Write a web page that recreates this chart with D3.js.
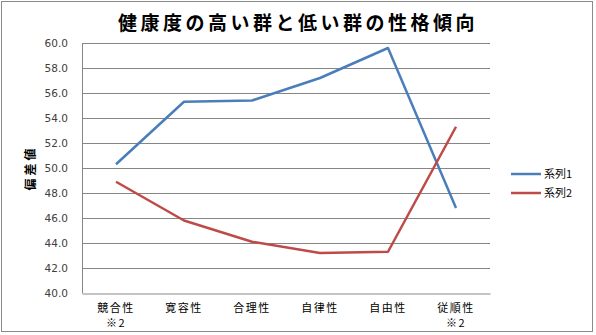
<!DOCTYPE html>
<html><head><meta charset="utf-8">
<script src="https://cdn.jsdelivr.net/npm/d3@7"></script>
<style>body{margin:0;background:#fff;}svg{display:block;}</style>
</head><body>
<script>
const categories = ["競合性\n※2","寛容性","合理性","自律性","自由性","従順性\n※2"];
const series1 = [50.3,55.3,55.4,57.2,59.6,46.8];
const series2 = [48.9,45.8,44.1,43.2,43.3,53.3];
const seriesNames = ["系列1","系列2"];
const yTicks = [40,42,44,46,48,50,52,54,56,58,60];
const title = "健康度の高い群と低い群の性格傾向";
const yLabel = "偏差値";

const W=596,H=335;
const svg=d3.select("body").append("svg").attr("width",W).attr("height",H);
svg.append("rect").attr("x",1.5).attr("y",1.5).attr("width",591).attr("height",330)
  .attr("fill","#fff").attr("stroke","#8a8a8a").attr("stroke-width",1);

const x=d3.scaleBand().domain(categories).range([82,490]);
const y=d3.scaleLinear().domain([40,60]).range([293,43]);

svg.append("text").attr("x",298).attr("y",30).attr("text-anchor","middle")
  .attr("font-family","Noto Sans CJK JP").attr("font-weight","bold").attr("font-size",19)
  .attr("letter-spacing",3.5).attr("fill","#000").text(title);

// gridlines
svg.append("g").selectAll("line").data(yTicks.slice(1)).join("line")
  .attr("x1",82).attr("x2",490).attr("y1",d=>Math.round(y(d))+0.5).attr("y2",d=>Math.round(y(d))+0.5)
  .attr("stroke","#868686").attr("stroke-width",1);

// y axis
const ya=svg.append("g").attr("transform","translate(82,0)")
  .call(d3.axisLeft(y).tickValues(yTicks).tickFormat(d3.format(".1f")).tickSize(0).tickPadding(14));
ya.select(".domain").attr("stroke","#868686");
ya.selectAll("text").attr("font-family","DejaVu Sans, Verdana").attr("font-size",10.5).attr("fill","#404040");

// x axis
const xa=svg.append("g").attr("transform","translate(0,293.5)")
  .call(d3.axisBottom(x).tickSize(0).tickFormat(""));
xa.select(".domain").attr("stroke","#b0b0b0").attr("stroke-width",1.5);
xa.selectAll(".tick").each(function(d){
  const lines=d.split("\n");
  const t=d3.select(this).append("text").attr("fill","#000")
    .attr("font-family","Noto Sans CJK JP").attr("font-size",11).attr("letter-spacing",1.5).attr("text-anchor","middle");
  lines.forEach((l,i)=>t.append("tspan").attr("x",0).attr("y",18+i*15).text(l));
});

// y label
svg.append("text").attr("transform","translate(35,168) rotate(-90)").attr("text-anchor","middle")
  .attr("font-family","Noto Sans CJK JP").attr("font-weight","bold").attr("font-size",12)
  .attr("letter-spacing",3).text(yLabel);

const line=d3.line().x((d,i)=>x(categories[i])+x.bandwidth()/2).y(d=>y(d));
const colors=["#4a7ebb","#be4b48"];
[series1,series2].forEach((s,k)=>{
  svg.append("path").datum(s).attr("d",line).attr("fill","none")
    .attr("stroke",colors[k]).attr("stroke-width",2.5).attr("stroke-linejoin","round");
});

// legend
seriesNames.forEach((n,k)=>{
  const ly=174+k*19;
  svg.append("line").attr("x1",511).attr("x2",541).attr("y1",ly).attr("y2",ly)
    .attr("stroke",colors[k]).attr("stroke-width",2.5);
  svg.append("text").attr("x",544).attr("y",ly+4).attr("font-family","Noto Sans CJK JP")
    .attr("font-size",11).attr("fill","#000").text(n);
});
</script>
</body></html>
